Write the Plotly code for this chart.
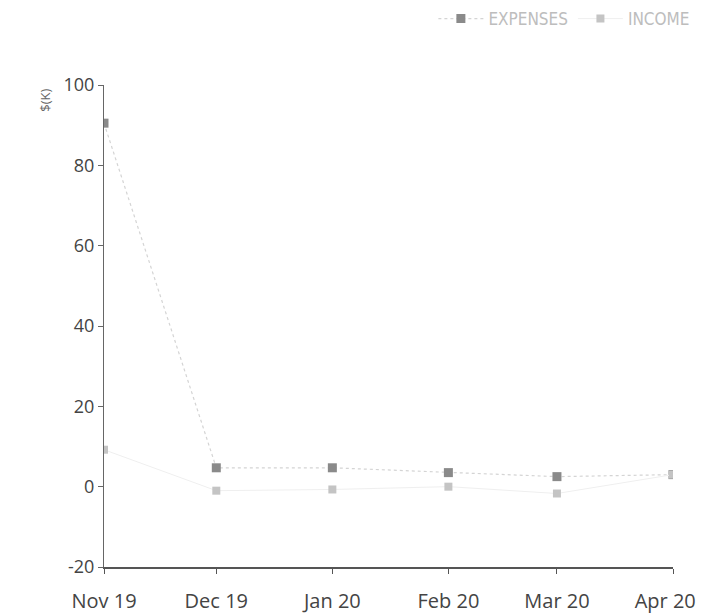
import plotly.graph_objects as go

months = ["2019-11-01", "2019-12-01", "2020-01-01", "2020-02-01", "2020-03-01", "2020-04-01"]
month_labels = ["Nov 19", "Dec 19", "Jan 20", "Feb 20", "Mar 20", "Apr 20"]
expenses = [90.5, 4.7, 4.7, 3.5, 2.5, 3.0]
income = [9.2, -1.0, -0.7, 0.0, -1.7, 3.0]
y_ticks = [-20, 0, 20, 40, 60, 80, 100]
y_tick_labels = ["-20", "0", "20", "40", "60", "80", "100"]

# last label padded so it stays inside the visible page edge
tick_text = month_labels[:-1] + [month_labels[-1] + "\u00a0" * 3]

fig = go.Figure()
fig.add_trace(go.Scatter(
    x=months, y=expenses, name="EXPENSES", mode="lines+markers",
    line=dict(color="#d4d4d4", width=1.2, dash="dot"),
    marker=dict(symbol="square", size=9, color="#8a8a8a"),
))
fig.add_trace(go.Scatter(
    x=months, y=income, name="INCOME", mode="lines+markers",
    line=dict(color="#efefef", width=1),
    marker=dict(symbol="square", size=8, color="#c4c4c4"),
))

fig.update_layout(
    width=705, height=615,
    margin=dict(l=96, r=40, t=77, b=56, autoexpand=False),
    paper_bgcolor="white", plot_bgcolor="white",
    font=dict(family="Open Sans, DejaVu Sans, sans-serif", color="#444", size=14),
    showlegend=True,
    legend=dict(orientation="h", xref="container", x=0.975, xanchor="right",
                yref="container", y=0.982, yanchor="middle", itemwidth=45,
                font=dict(family="Liberation Sans Narrow, DejaVu Sans Condensed, sans-serif",
                          size=17, color="#bdbdbd"),
                bgcolor="rgba(0,0,0,0)"),
    xaxis=dict(
        type="date", range=["2019-11-01", "2020-04-01"],
        tickvals=months, ticktext=tick_text,
        ticklabeloverflow="allow",
        showgrid=False, zeroline=False,
        showline=True, linecolor="#555", linewidth=2,
        ticks="outside", ticklen=5, tickcolor="#555",
        ticklabelstandoff=10,
        tickfont=dict(size=20, color="#444"),
    ),
    yaxis=dict(
        range=[-20, 100], tickvals=y_ticks, ticktext=y_tick_labels,
        showgrid=False, zeroline=False,
        showline=True, linecolor="#666", linewidth=1,
        ticks="outside", ticklen=5, tickcolor="#666",
        tickfont=dict(size=18, color="#444"),
    ),
    annotations=[dict(
        text="$(K)", xref="paper", yref="paper", x=-0.104, y=0.969,
        xanchor="center", yanchor="middle",
        showarrow=False, textangle=-90, font=dict(size=13, color="#666"),
    )],
)

fig.write_html("out.html")
